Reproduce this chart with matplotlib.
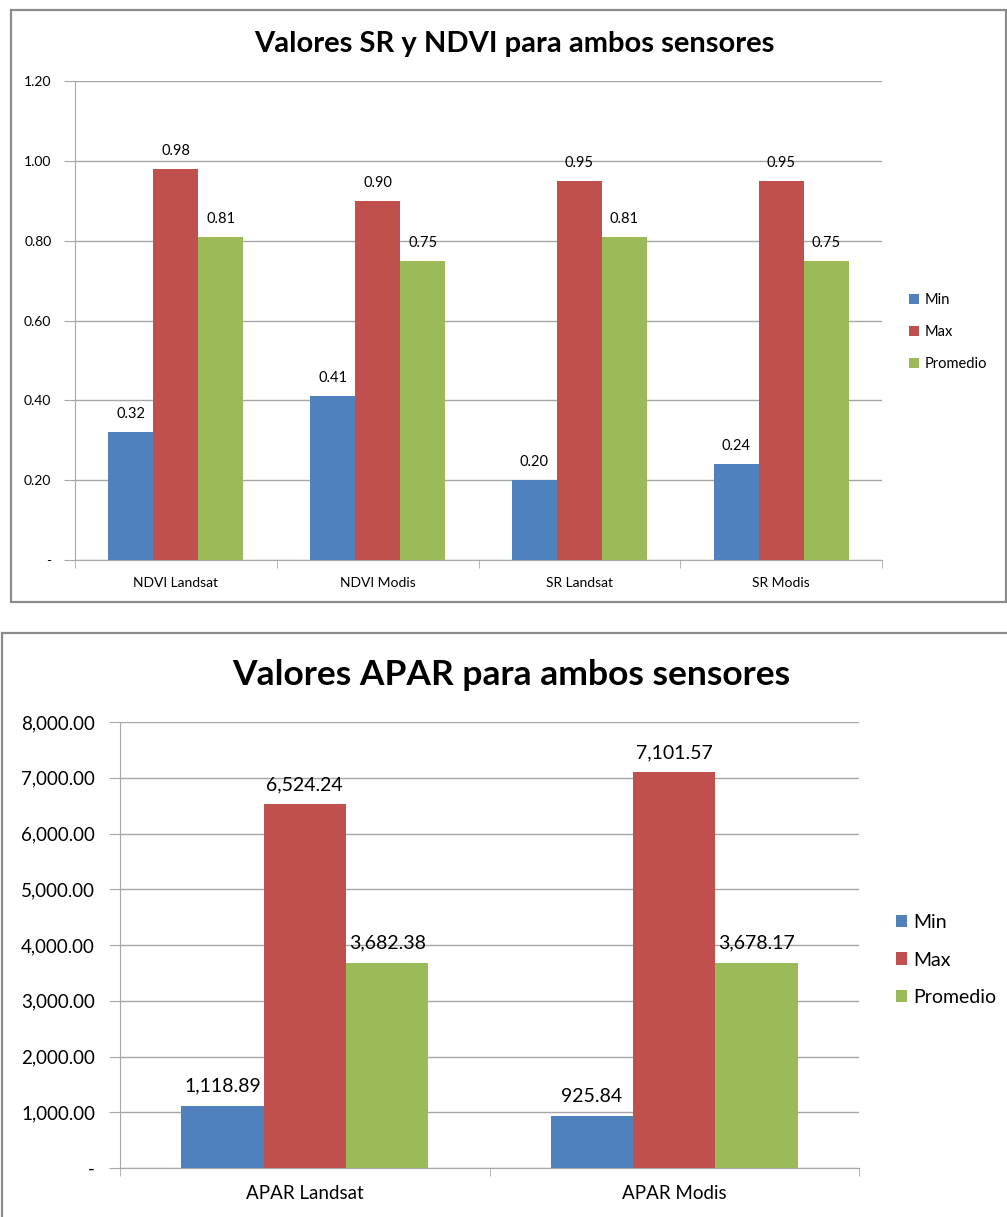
import numpy as np
import matplotlib
matplotlib.use("Agg")
import matplotlib.pyplot as plt
from matplotlib.patches import Rectangle
from matplotlib.ticker import FixedLocator, FuncFormatter

plt.rcParams['font.family'] = ['Lato', 'DejaVu Sans']

# top chart data
cats_top = ["NDVI Landsat", "NDVI Modis", "SR Landsat", "SR Modis"]
min_top = [0.32, 0.41, 0.20, 0.24]
max_top = [0.98, 0.90, 0.95, 0.95]
prom_top = [0.81, 0.75, 0.81, 0.75]

# bottom chart data
cats_bot = ["APAR Landsat", "APAR Modis"]
min_bot = [1118.89, 925.84]
max_bot = [6524.24, 7101.57]
prom_bot = [3682.38, 3678.17]

series_names = ["Min", "Max", "Promedio"]
colors = ["#4F81BD", "#C0504D", "#9BBB59"]
grid_c = "#a6a6a6"

W, H = 1007, 1217
fig = plt.figure(figsize=(W / 100, H / 100), dpi=100)


def px_axes(l, t, r, b):
    return fig.add_axes([l / W, (H - b) / H, (r - l) / W, (b - t) / H])


def frame(l, t, r, b):
    fig.add_artist(Rectangle((l / W, (H - b) / H), (r - l) / W, (b - t) / H,
                             transform=fig.transFigure, fill=False,
                             edgecolor="#8c8c8c", lw=1.6))


def draw(ax, cats, data, ymax, ystep, fmt, tick_fs, lab_fs, bw, ypad):
    x = np.arange(len(cats))
    for i, (vals, c, name) in enumerate(zip(data, colors, series_names)):
        bars = ax.bar(x + (i - 1) * bw, vals, bw, color=c, label=name, zorder=3)
        for rect, v in zip(bars, vals):
            ax.annotate(fmt(v), (rect.get_x() + rect.get_width() / 2, v),
                        xytext=(0, 8), textcoords="offset points",
                        ha="center", va="bottom", fontsize=lab_fs)
    ax.set_xlim(-0.5, len(cats) - 0.5)
    ax.set_ylim(0, ymax)
    ax.set_yticks(np.arange(0, ymax + ystep / 2, ystep))
    ax.yaxis.set_major_formatter(FuncFormatter(lambda v, p: "-" if v == 0 else fmt(v)))
    ax.set_xticks(x)
    ax.set_xticklabels(cats)
    ax.xaxis.set_minor_locator(FixedLocator(np.arange(-0.5, len(cats), 1.0)))
    ax.tick_params(axis="x", which="major", length=0, pad=12, labelsize=tick_fs)
    ax.tick_params(axis="x", which="minor", length=6, color=grid_c)
    ax.tick_params(axis="y", length=8, color=grid_c, pad=ypad, labelsize=tick_fs)
    ax.yaxis.grid(True, color=grid_c, lw=1, zorder=0)
    for s in ["top", "right"]:
        ax.spines[s].set_visible(False)
    for s in ["left", "bottom"]:
        ax.spines[s].set_color(grid_c)


# ---- top chart
frame(11, 10, 1006, 602)
ax1 = px_axes(75, 81, 882, 560)
draw(ax1, cats_top, [min_top, max_top, prom_top], 1.2, 0.2,
     lambda v: f"{v:.2f}", 10, 10.5, 0.223, 9)
fig.text(514 / W, 1 - 44 / H, "Valores SR y NDVI para ambos sensores",
         ha="center", va="center", fontsize=21, fontweight="bold")
ax1.legend(loc="center left", bbox_to_anchor=(903 / W, 1 - 332 / H),
           bbox_transform=fig.transFigure, frameon=False, fontsize=10.5,
           handlelength=0.7, handleheight=0.7, handletextpad=0.4,
           labelspacing=1.25, borderaxespad=0)

# ---- bottom chart
frame(2, 633, 1012, 1222)
ax2 = px_axes(120, 722, 859, 1168)
draw(ax2, cats_bot, [min_bot, max_bot, prom_bot], 8000, 1000,
     lambda v: f"{v:,.2f}", 13.5, 14, 0.223, 10)
fig.text(511 / W, 1 - 675 / H, "Valores APAR para ambos sensores",
         ha="center", va="center", fontsize=25.5, fontweight="bold")
ax2.legend(loc="center left", bbox_to_anchor=(888 / W, 1 - 960 / H),
           bbox_transform=fig.transFigure, frameon=False, fontsize=14,
           handlelength=0.6, handleheight=0.6, handletextpad=0.3,
           labelspacing=1.05, borderaxespad=0)

fig.savefig("out.png", dpi=100)
